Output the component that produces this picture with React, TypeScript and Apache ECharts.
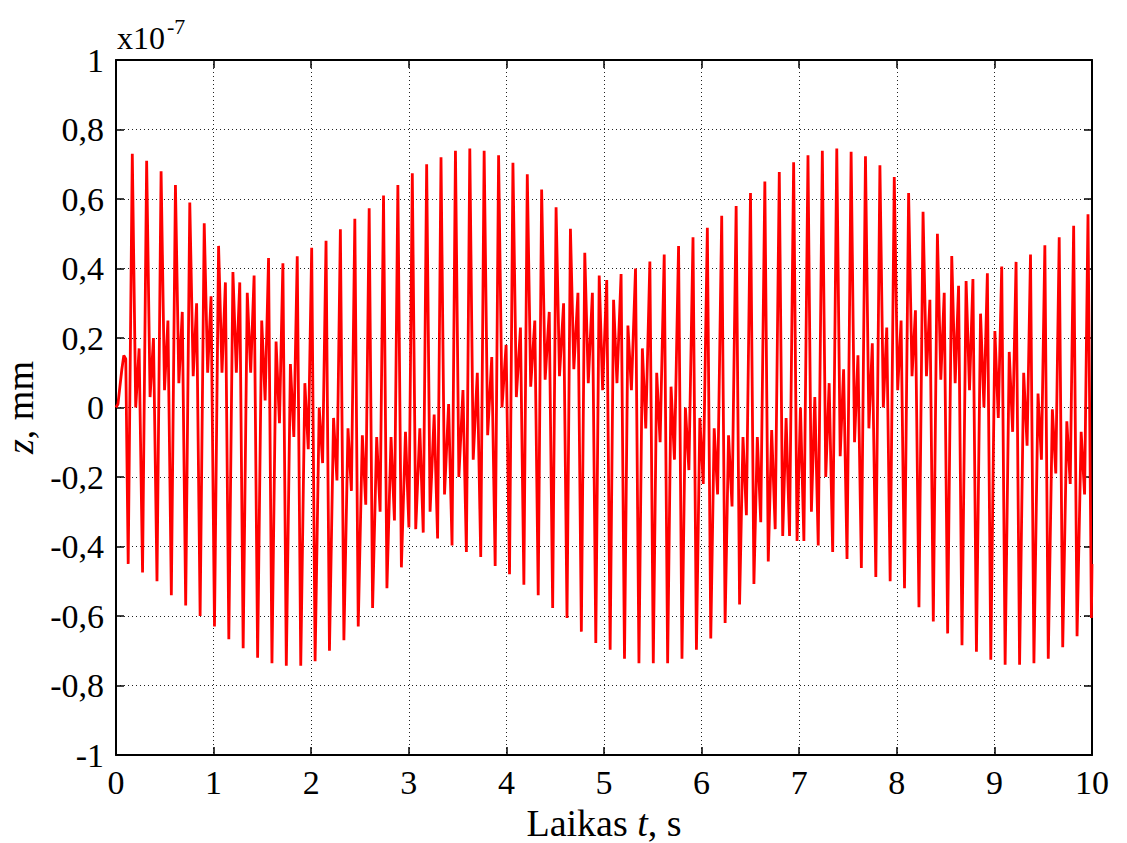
import React, { useEffect, useRef } from "react";
import * as echarts from "echarts";

// Values are in units of 1e-7 mm (axis multiplier shown as x10^-7)
const startT = [0, 0.02, 0.04, 0.06, 0.08, 0.1];
const startV = [0, 0.01, 0.06, 0.11, 0.15, 0.14];

// start time of each oscillation cycle (s)
const cycleT = [
  0.125, 0.272, 0.42, 0.567, 0.714, 0.862, 1.009, 1.156, 1.303, 1.451,
  1.598, 1.745, 1.893, 2.04, 2.187, 2.335, 2.482, 2.629, 2.776, 2.924,
  3.071, 3.218, 3.366, 3.513, 3.66, 3.808, 3.955, 4.102, 4.249, 4.397,
  4.544, 4.691, 4.839, 4.986, 5.133, 5.281, 5.428, 5.575, 5.722, 5.87,
  6.017, 6.164, 6.312, 6.459, 6.606, 6.754, 6.901, 7.048, 7.195, 7.343,
  7.49, 7.637, 7.785, 7.932, 8.079, 8.227, 8.374, 8.521, 8.668, 8.816,
  8.963, 9.11, 9.258, 9.405, 9.552, 9.7, 9.847, 9.994,
];

// first extremum of each cycle
const dipA = [
  -0.45, -0.475, -0.5, -0.54, -0.57, -0.6, -0.63, -0.667, -0.693, -0.72,
  -0.736, -0.743, -0.743, -0.73, -0.7, -0.67, -0.63, -0.577, -0.52, -0.46,
  -0.35, -0.3, -0.25, -0.2, -0.15, -0.08, 0.0, 0.03, 0.06, 0.08,
  0.09, 0.11, 0.07, 0.05, 0.07, 0.05, -0.06, -0.1, -0.15, -0.18,
  -0.22, -0.25, -0.285, -0.31, -0.33, -0.35, -0.37, -0.384, -0.397, -0.416,
  -0.436, -0.462, -0.488, -0.5, -0.52, -0.575, -0.616, -0.65, -0.684, -0.703,
  -0.726, -0.74, -0.74, -0.736, -0.723, -0.69, -0.658, -0.606,
];

// second extremum of each cycle
const peakB = [
  0.73, 0.71, 0.68, 0.64, 0.59, 0.53, 0.465, 0.39, 0.33, 0.25,
  0.19, 0.125, 0.07, 0.0, -0.03, -0.06, -0.08, -0.085, -0.085, -0.07,
  -0.06, -0.02, 0.01, 0.05, 0.1, 0.145, 0.18, 0.23, 0.25, 0.275,
  0.3, 0.33, 0.33, 0.367, 0.384, 0.4, 0.42, 0.44, 0.465, 0.49,
  0.517, 0.552, 0.58, 0.617, 0.65, 0.678, 0.706, 0.726, 0.739, 0.745,
  0.736, 0.723, 0.697, 0.663, 0.617, 0.563, 0.5, 0.436, 0.364, 0.27,
  0.22, 0.16, 0.1, 0.04, -0.005, -0.04, -0.07,
];

// third extremum of each cycle
const dipC = [
  0.0, 0.03, 0.05, 0.07, 0.09, 0.1, 0.1, 0.1, 0.1, 0.02,
  -0.045, -0.085, -0.12, -0.16, -0.21, -0.24, -0.28, -0.3, -0.325, -0.345,
  -0.36, -0.377, -0.397, -0.416, -0.43, -0.456, -0.48, -0.51, -0.54, -0.577,
  -0.606, -0.645, -0.678, -0.697, -0.723, -0.736, -0.736, -0.736, -0.723, -0.697,
  -0.665, -0.62, -0.567, -0.508, -0.443, -0.37, -0.384, -0.3, -0.2, -0.14,
  -0.1, -0.06, 0.0, 0.05, 0.09, 0.09, 0.08, 0.07, 0.05, 0.0,
  -0.03, -0.07, -0.11, -0.15, -0.19, -0.22, -0.25,
];

// fourth extremum of each cycle
const humpD = [
  0.17, 0.2, 0.25, 0.275, 0.3, 0.32, 0.36, 0.36, 0.38, 0.43,
  0.415, 0.435, 0.46, 0.48, 0.513, 0.543, 0.573, 0.61, 0.64, 0.674,
  0.7, 0.72, 0.739, 0.745, 0.739, 0.726, 0.704, 0.671, 0.627, 0.576,
  0.514, 0.445, 0.38, 0.31, 0.236, 0.17, 0.1, 0.06, 0.0, -0.03,
  -0.06, -0.08, -0.085, -0.085, -0.065, -0.03, 0.0, 0.03, 0.07, 0.11,
  0.15, 0.185, 0.23, 0.25, 0.28, 0.31, 0.33, 0.35, 0.37, 0.386,
  0.406, 0.419, 0.44, 0.467, 0.49, 0.523, 0.556,
];

const endT = 10;
const endV = -0.45;

// time offsets of the four extrema inside a cycle (s)
const slotOffset = [0, 0.042, 0.077, 0.112];

function buildData(): number[][] {
  const pts: number[][] = [];
  startT.forEach((t, i) => pts.push([t, startV[i]]));
  cycleT.forEach((t0, k) => {
    pts.push([t0, dipA[k]]);
    if (k < peakB.length) {
      pts.push([t0 + slotOffset[1], peakB[k]]);
      pts.push([t0 + slotOffset[2], dipC[k]]);
      pts.push([t0 + slotOffset[3], humpD[k]]);
    }
  });
  pts.push([endT, endV]);
  return pts;
}

const FONT = "'Liberation Serif', 'Times New Roman', serif";

export default function App() {
  const ref = useRef<HTMLDivElement>(null);
  useEffect(() => {
    if (!ref.current) return;
    const chart = echarts.init(ref.current, undefined, { renderer: "svg" });
    const gridLine = { show: true, lineStyle: { type: [1, 3] as any, color: "#222", width: 1 } };
    const axisLine = { show: true, onZero: false, lineStyle: { color: "#000", width: 2 } };
    const tick = { show: true, inside: true, length: 8, lineStyle: { color: "#000", width: 1.5 } };
    const titleStyle = {
      fontFamily: FONT,
      fontSize: 38,
      color: "#000",
      rich: { i: { fontFamily: FONT, fontSize: 38, fontStyle: "italic", color: "#000" } },
    };
    chart.setOption({
      animation: false,
      backgroundColor: "#fff",
      grid: {
        left: 116,
        right: 35,
        top: 60,
        bottom: 88,
        containLabel: false,
        outerBoundsMode: "none",
      },
      xAxis: [
        {
          type: "value",
          min: 0,
          max: 10,
          interval: 1,
          position: "bottom",
          axisLine,
          axisTick: tick,
          axisLabel: { color: "#000", fontFamily: FONT, fontSize: 34, margin: 10 },
          splitLine: gridLine,
          name: "Laikas {i|t}, s",
          nameLocation: "middle",
          nameGap: 44,
          nameTextStyle: titleStyle,
        },
        {
          type: "value",
          min: 0,
          max: 10,
          interval: 1,
          position: "top",
          axisLine,
          axisTick: tick,
          axisLabel: { show: false },
          splitLine: { show: false },
        },
      ],
      yAxis: [
        {
          type: "value",
          min: -1,
          max: 1,
          interval: 0.2,
          position: "left",
          axisLine,
          axisTick: tick,
          axisLabel: {
            color: "#000",
            fontFamily: FONT,
            fontSize: 34,
            margin: 12,
            formatter: (v: number) => String(Math.round(v * 10) / 10).replace(".", ","),
          },
          splitLine: gridLine,
          name: "{i|z}, mm",
          nameLocation: "middle",
          nameRotate: 90,
          nameGap: 62,
          nameTextStyle: titleStyle,
        },
        {
          type: "value",
          min: -1,
          max: 1,
          interval: 0.2,
          position: "right",
          axisLine,
          axisTick: tick,
          axisLabel: { show: false },
          splitLine: { show: false },
        },
      ],
      graphic: [
        {
          type: "text",
          left: 117,
          top: 22,
          style: { text: "x10", fontFamily: FONT, fontSize: 32, fill: "#000" },
        },
        {
          type: "text",
          left: 167,
          top: 15,
          style: { text: "-7", fontFamily: FONT, fontSize: 22, fill: "#000" },
        },
      ],
      series: [
        {
          type: "line",
          data: buildData(),
          showSymbol: false,
          symbol: "none",
          clip: true,
          lineStyle: { color: "#ff0000", width: 2.8 },
          xAxisIndex: 0,
          yAxisIndex: 0,
        },
      ],
    });
    return () => chart.dispose();
  }, []);
  return (
    <div
      ref={ref}
      style={{ position: "fixed", left: 0, top: 0, width: 1127, height: 843, background: "#fff" }}
    />
  );
}
